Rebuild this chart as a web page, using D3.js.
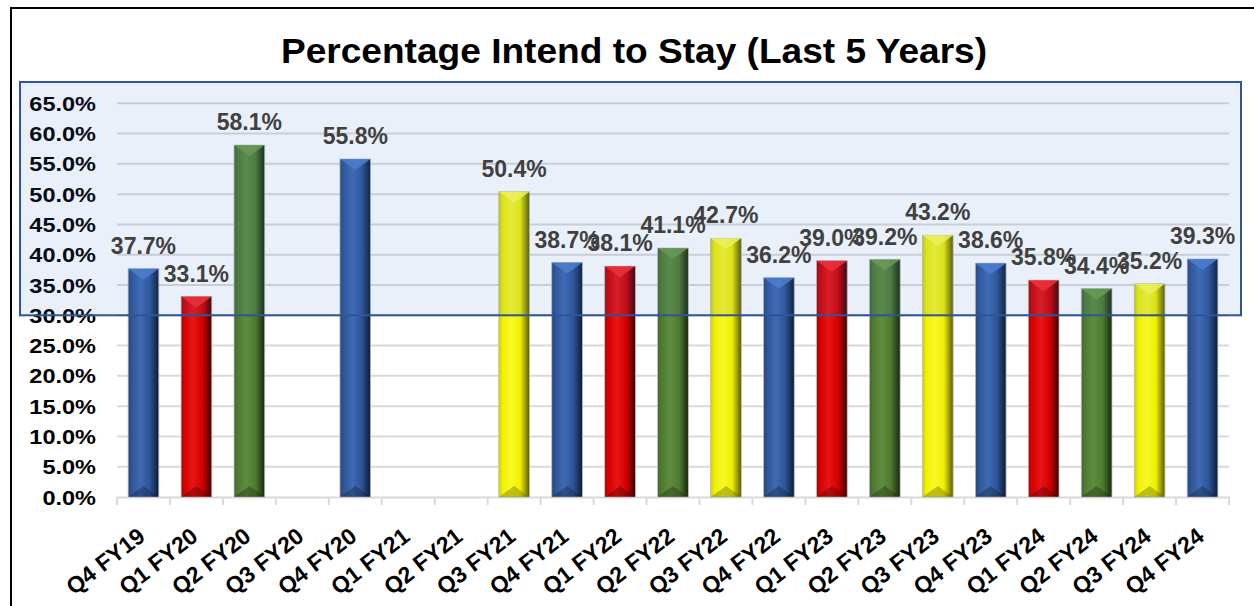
<!DOCTYPE html>
<html>
<head>
<meta charset="utf-8">
<script src="https://cdn.jsdelivr.net/npm/d3@7"></script>
<style>
  body { margin: 0; background: #fff; }
  svg { display: block; font-family: "Liberation Sans", Arial, sans-serif; }
</style>
</head>
<body>
<svg width="1254" height="606"></svg>
<script>
// chart data
var quarters = ["Q4 FY19", "Q1 FY20", "Q2 FY20", "Q3 FY20", "Q4 FY20", "Q1 FY21", "Q2 FY21",
  "Q3 FY21", "Q4 FY21", "Q1 FY22", "Q2 FY22", "Q3 FY22", "Q4 FY22", "Q1 FY23", "Q2 FY23",
  "Q3 FY23", "Q4 FY23", "Q1 FY24", "Q2 FY24", "Q3 FY24", "Q4 FY24"];
var intendToStay = [37.7, 33.1, 58.1, null, 55.8, null, null,
  50.4, 38.7, 38.1, 41.1, 42.7, 36.2, 39.0, 39.2,
  43.2, 38.6, 35.8, 34.4, 35.2, 39.3];
var yTicks = [0, 5, 10, 15, 20, 25, 30, 35, 40, 45, 50, 55, 60, 65];
var title = "Percentage Intend to Stay (Last 5 Years)";

// bar colours by quarter: [light, mid, dark]
var quarterColors = {
  Q1: ["#ff2a2a", "#d40000", "#3a0000"],
  Q2: ["#6f9e4a", "#4f7b31", "#18260f"],
  Q3: ["#ffff50", "#f0f000", "#5a5a00"],
  Q4: ["#4f7fd0", "#2f5597", "#0c1a33"]
};

var svg = d3.select("svg");
var defs = svg.append("defs");

// horizontal gradient for each colour to fake the bevel look
Object.keys(quarterColors).forEach(function (q) {
  var c = quarterColors[q];
  var grad = defs.append("linearGradient").attr("id", "grad" + q)
    .attr("x1", "0%").attr("x2", "100%").attr("y1", "0%").attr("y2", "0%");
  grad.append("stop").attr("offset", "0%").attr("stop-color", d3.interpolateRgb(c[1], c[2])(0.25));
  grad.append("stop").attr("offset", "12%").attr("stop-color", c[1]);
  grad.append("stop").attr("offset", "40%").attr("stop-color", d3.interpolateRgb(c[1], c[0])(0.5));
  grad.append("stop").attr("offset", "70%").attr("stop-color", c[1]);
  grad.append("stop").attr("offset", "100%").attr("stop-color", c[2]);
});

// outer frame (only left and top sides show)
svg.append("path")
  .attr("d", "M11,606 L11,8 L1254,8")
  .attr("fill", "none")
  .attr("stroke", "#000")
  .attr("stroke-width", 2);

// the source text is a little wider than the font, so stretch it sideways
svg.append("text")
  .attr("transform", "translate(634,63) scale(1.06,1)")
  .attr("text-anchor", "middle")
  .attr("font-size", "35px")
  .attr("font-weight", "bold")
  .attr("fill", "#000")
  .text(title);

var x = d3.scaleBand()
  .domain(quarters)
  .range([117, 1229])
  .paddingInner(0.42)
  .paddingOuter(0.21);

var y = d3.scaleLinear()
  .domain([0, 65])
  .range([497, 103.3]);

// gridlines
svg.append("g")
  .selectAll("line")
  .data(yTicks.slice(1))
  .enter()
  .append("line")
  .attr("x1", 117)
  .attr("x2", 1229)
  .attr("y1", function (d) { return y(d); })
  .attr("y2", function (d) { return y(d); })
  .attr("stroke", "#d9d9d9")
  .attr("stroke-width", 2);

// y axis labels
svg.append("g")
  .selectAll("text")
  .data(yTicks)
  .enter()
  .append("text")
  .attr("transform", function (d) { return "translate(96," + y(d) + ") scale(1.12,1)"; })
  .attr("dy", "0.36em")
  .attr("text-anchor", "end")
  .attr("font-size", "21px")
  .attr("font-weight", "bold")
  .attr("fill", "#000")
  .text(function (d) { return d.toFixed(1) + "%"; });

// x axis: line plus ticks between categories
var xAxis = svg.append("g")
  .attr("transform", "translate(0,497)")
  .call(d3.axisBottom(x).tickSize(0).tickFormat(""));
xAxis.select(".domain").attr("stroke", "#d9d9d9").attr("stroke-width", 2);
xAxis.selectAll(".sep")
  .data(quarters.concat(["end"]))
  .enter()
  .append("line")
  .attr("class", "sep")
  .attr("x1", function (d, i) { return 117 + i * x.step(); })
  .attr("x2", function (d, i) { return 117 + i * x.step(); })
  .attr("y1", 0)
  .attr("y2", 8)
  .attr("stroke", "#d9d9d9")
  .attr("stroke-width", 2);

svg.append("g")
  .selectAll("text")
  .data(quarters)
  .enter()
  .append("text")
  .attr("transform", function (d) {
    return "translate(" + (x(d) + x.bandwidth() / 2 + 3) + ",539) rotate(-38)";
  })
  .attr("text-anchor", "end")
  .attr("font-size", "23px")
  .attr("font-weight", "bold")
  .attr("fill", "#000")
  .text(function (d) { return d; });

var bars = quarters
  .map(function (q, i) { return { q: q, v: intendToStay[i] }; })
  .filter(function (d) { return d.v !== null; });

var barG = svg.append("g")
  .selectAll("g")
  .data(bars)
  .enter()
  .append("g");

barG.append("rect")
  .attr("x", function (d) { return x(d.q); })
  .attr("y", function (d) { return y(d.v); })
  .attr("width", x.bandwidth())
  .attr("height", function (d) { return y(0) - y(d.v); })
  .attr("fill", function (d) { return "url(#grad" + d.q.slice(0, 2) + ")"; })
  .attr("stroke", "#bfbfbf")
  .attr("stroke-width", 0.8);

// top bevel highlight
barG.append("path")
  .attr("d", function (d) {
    var x0 = x(d.q), w = x.bandwidth(), t = y(d.v);
    return "M" + x0 + "," + t + " L" + (x0 + w) + "," + t + " L" + (x0 + w / 2) + "," + (t + 11) + "Z";
  })
  .attr("fill", function (d) { return quarterColors[d.q.slice(0, 2)][0]; })
  .attr("opacity", 0.85);

// bottom bevel shadow
barG.append("path")
  .attr("d", function (d) {
    var x0 = x(d.q), w = x.bandwidth(), b = y(0);
    return "M" + x0 + "," + b + " L" + (x0 + w) + "," + b + " L" + (x0 + w / 2) + "," + (b - 11) + "Z";
  })
  .attr("fill", function (d) { return quarterColors[d.q.slice(0, 2)][2]; })
  .attr("opacity", 0.35);

// highlighted band drawn over the chart
svg.append("rect")
  .attr("x", 20)
  .attr("y", 82)
  .attr("width", 1221)
  .attr("height", y(30) - 82)
  .attr("fill", "#4472c4")
  .attr("fill-opacity", 0.11)
  .attr("stroke", "#2f5597")
  .attr("stroke-width", 2);

// data labels
svg.append("g")
  .selectAll("text")
  .data(bars)
  .enter()
  .append("text")
  .attr("x", function (d) { return x(d.q) + x.bandwidth() / 2; })
  .attr("y", function (d) { return y(d.v) - 15; })
  .attr("text-anchor", "middle")
  .attr("font-size", "23px")
  .attr("font-weight", "bold")
  .attr("fill", "#404040")
  .text(function (d) { return d.v.toFixed(1) + "%"; });
</script>
</body>
</html>
